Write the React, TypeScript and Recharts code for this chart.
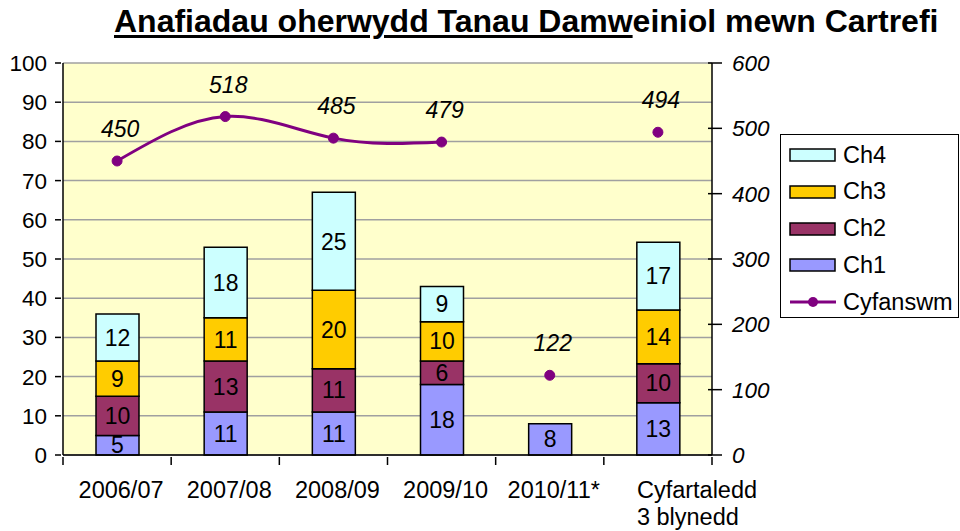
import React from 'react';
import { ComposedChart, Bar, Line, XAxis, YAxis, CartesianGrid, LabelList, Legend } from 'recharts';

const categories = ['2006/07', '2007/08', '2008/09', '2009/10', '2010/11*', 'Cyfartaledd\n3 blynedd'];
const ch1 = [5, 11, 11, 18, 8, 13.3];
const ch2 = [10, 13, 11, 6, null, 10];
const ch3 = [9, 11, 20, 10, null, 13.7];
const ch4 = [12, 18, 25, 9, null, 17.3];
const cyfanswmLine = [450, 518, 485, 479, null, null];
const cyfanswmPoints = [null, null, null, null, 122, 494];
const leftTicks = [0, 10, 20, 30, 40, 50, 60, 70, 80, 90, 100];
const rightTicks = [0, 100, 200, 300, 400, 500, 600];

const data = categories.map((c, i) => ({
  name: c,
  ch1: ch1[i],
  ch2: ch2[i],
  ch3: ch3[i],
  ch4: ch4[i],
  total: cyfanswmLine[i],
  totalPt: cyfanswmPoints[i],
}));

const W = 960;
const H = 531;
const PLOT_LEFT = 63;
const PLOT_RIGHT = 712;
const PLOT_TOP = 63;
const PLOT_BOTTOM = 455;
const BAND = (PLOT_RIGHT - PLOT_LEFT) / categories.length;

const C1 = '#9999FF';
const C2 = '#993366';
const C3 = '#FFCC00';
const C4 = '#CCFFFF';
const PURPLE = '#800080';
const FONT = '"Liberation Sans", Arial, sans-serif';

const fmt = (v: any) => (v == null ? '' : String(Math.round(Number(v))));

const XTick = (props: any) => {
  const { x, y, payload, index } = props;
  const lines = String(payload.value).split('\n');
  const multi = lines.length > 1;
  return (
    <g>
      <line x1={x - BAND / 2} y1={y} x2={x - BAND / 2} y2={y + 8} stroke="#000" strokeWidth={1.5} />
      {index === categories.length - 1 && (
        <line x1={x + BAND / 2} y1={y} x2={x + BAND / 2} y2={y + 8} stroke="#000" strokeWidth={1.5} />
      )}
      <text
        x={multi ? x - 21 : x + 4}
        y={y + 41}
        textAnchor={multi ? 'start' : 'middle'}
        fontSize={23.5}
        fill="#000"
        fontFamily={FONT}
      >
        {lines.map((l, i) => (
          <tspan key={i} x={multi ? x - 21 : x + 4} dy={i === 0 ? 0 : 27}>
            {l}
          </tspan>
        ))}
      </text>
    </g>
  );
};

const LeftTick = (props: any) => {
  const { x, y, payload } = props;
  return (
    <g>
      <line x1={x - 6} y1={y} x2={x} y2={y} stroke="#000" strokeWidth={1.5} />
      <text x={x - 14} y={y + 8} textAnchor="end" fontSize={22.5} fill="#000" fontFamily={FONT}>
        {payload.value}
      </text>
    </g>
  );
};

const RightTick = (props: any) => {
  const { x, y, payload } = props;
  return (
    <g>
      <line x1={x - 6} y1={y} x2={x + 8} y2={y} stroke="#000" strokeWidth={1.5} />
      <text x={x + 18} y={y + 8} textAnchor="start" fontSize={22.5} fontStyle="italic" fill="#000" fontFamily={FONT}>
        {payload.value}
      </text>
    </g>
  );
};

const TotalLabel = (props: any) => {
  const { x, y, value } = props;
  if (value == null || x == null || y == null) return null;
  return (
    <text x={x + 3} y={y - 24} textAnchor="middle" fontSize={23} fontStyle="italic" fill="#000" fontFamily={FONT}>
      {value}
    </text>
  );
};

const legendItems = [
  { label: 'Ch4', color: C4, type: 'rect' },
  { label: 'Ch3', color: C3, type: 'rect' },
  { label: 'Ch2', color: C2, type: 'rect' },
  { label: 'Ch1', color: C1, type: 'rect' },
  { label: 'Cyfanswm', color: PURPLE, type: 'line' },
];

const LegendBox = () => (
  <div
    style={{
      position: 'absolute',
      left: 0,
      top: 0,
      width: 179,
      height: 184,
      border: '1px solid #000',
      background: '#fff',
      boxSizing: 'border-box',
      fontFamily: FONT,
      fontSize: 23.5,
    }}
  >
    {legendItems.map((it, i) => (
      <div
        key={it.label}
        style={{ position: 'absolute', left: 8, top: 7 + i * 36.8, height: 26, display: 'flex', alignItems: 'center' }}
      >
        <svg width={48} height={16} style={{ marginRight: 6 }}>
          {it.type === 'rect' ? (
            <rect x={1} y={2} width={45} height={12} fill={it.color} stroke="#000" strokeWidth={1.5} />
          ) : (
            <g>
              <line x1={1} y1={8} x2={47} y2={8} stroke={it.color} strokeWidth={3} />
              <circle cx={24} cy={8} r={5} fill={it.color} />
            </g>
          )}
        </svg>
        <span>{it.label}</span>
      </div>
    ))}
  </div>
);

export default function App() {
  return (
    <div style={{ position: 'absolute', left: 0, top: 0, width: W, height: H, fontFamily: FONT, background: '#fff' }}>
      <div
        style={{
          position: 'absolute',
          left: 114,
          top: 3,
          fontSize: 32,
          fontWeight: 'bold',
          whiteSpace: 'nowrap',
          fontFamily: FONT,
        }}
      >
        <span style={{ textDecoration: 'underline', textDecorationThickness: 3, textUnderlineOffset: 3 }}>
          Anafiadau oherwydd Tanau Damw
        </span>
        einiol mewn Cartrefi
      </div>
      <ComposedChart
        width={W}
        height={H}
        data={data}
        margin={{ top: PLOT_TOP, right: 0, bottom: 0, left: 0 }}
        barSize={43}
        style={{ position: 'absolute', left: 0, top: 0 }}
      >
        <CartesianGrid vertical={false} stroke="#A0A0A0" strokeWidth={1.5} fill="#FFFFCC" yAxisId="left" />
        <XAxis
          dataKey="name"
          height={H - PLOT_BOTTOM}
          interval={0}
          tickSize={0}
          tickLine={false}
          tick={<XTick />}
          axisLine={{ stroke: '#000', strokeWidth: 1.5 }}
        />
        <YAxis
          yAxisId="left"
          orientation="left"
          width={PLOT_LEFT}
          domain={[0, 100]}
          ticks={leftTicks}
          interval={0}
          tickSize={0}
          tickLine={false}
          tick={<LeftTick />}
          axisLine={{ stroke: '#000', strokeWidth: 1.5 }}
        />
        <YAxis
          yAxisId="right"
          orientation="right"
          width={W - PLOT_RIGHT}
          domain={[0, 600]}
          ticks={rightTicks}
          interval={0}
          tickSize={0}
          tickLine={false}
          tick={<RightTick />}
          axisLine={{ stroke: '#000', strokeWidth: 1.5 }}
        />
        <Bar dataKey="ch1" name="Ch1" stackId="a" yAxisId="left" fill={C1} stroke="#000" strokeWidth={1.5} isAnimationActive={false}>
          <LabelList dataKey="ch1" position="center" formatter={fmt} fill="#000" fontSize={23} fontFamily={FONT} />
        </Bar>
        <Bar dataKey="ch2" name="Ch2" stackId="a" yAxisId="left" fill={C2} stroke="#000" strokeWidth={1.5} isAnimationActive={false}>
          <LabelList dataKey="ch2" position="center" formatter={fmt} fill="#000" fontSize={23} fontFamily={FONT} />
        </Bar>
        <Bar dataKey="ch3" name="Ch3" stackId="a" yAxisId="left" fill={C3} stroke="#000" strokeWidth={1.5} isAnimationActive={false}>
          <LabelList dataKey="ch3" position="center" formatter={fmt} fill="#000" fontSize={23} fontFamily={FONT} />
        </Bar>
        <Bar dataKey="ch4" name="Ch4" stackId="a" yAxisId="left" fill={C4} stroke="#000" strokeWidth={1.5} isAnimationActive={false}>
          <LabelList dataKey="ch4" position="center" formatter={fmt} fill="#000" fontSize={23} fontFamily={FONT} />
        </Bar>
        <Line
          dataKey="total"
          name="Cyfanswm"
          yAxisId="right"
          type="natural"
          stroke={PURPLE}
          strokeWidth={3}
          dot={{ r: 5, fill: PURPLE, stroke: PURPLE, strokeWidth: 1 }}
          isAnimationActive={false}
        >
          <LabelList dataKey="total" content={<TotalLabel />} />
        </Line>
        <Line
          dataKey="totalPt"
          name="Cyfanswm pts"
          yAxisId="right"
          stroke="none"
          legendType="none"
          dot={{ r: 5, fill: PURPLE, stroke: PURPLE, strokeWidth: 1 }}
          isAnimationActive={false}
        >
          <LabelList dataKey="totalPt" content={<TotalLabel />} />
        </Line>
        <Legend
          content={<LegendBox />}
          wrapperStyle={{ position: 'absolute', left: 780, top: 134, width: 0, height: 0, overflow: 'visible' }}
        />
      </ComposedChart>
    </div>
  );
}
